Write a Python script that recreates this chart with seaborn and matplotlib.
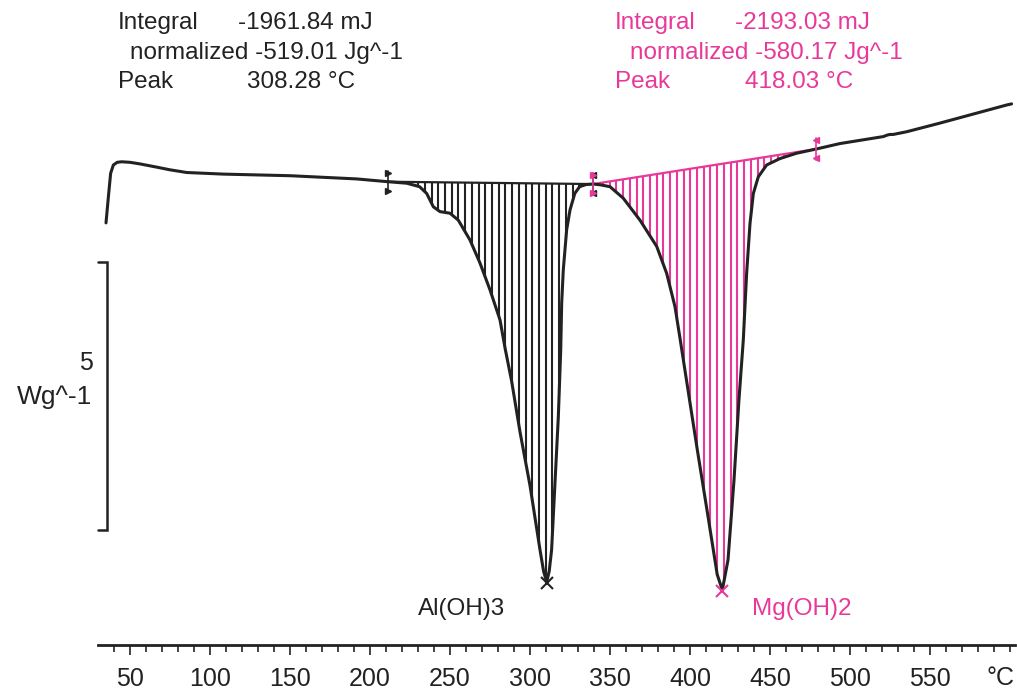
import numpy as np
import pandas as pd
import matplotlib
matplotlib.use("Agg")
import matplotlib.pyplot as plt
import seaborn as sns

# ---------------- data ----------------
temperature = [35.0, 36.5, 37.9, 39.6, 42.0, 44.8, 50.0, 56.25, 66.7, 75.0, 85.4,
               108.3, 150.0, 191.7, 210.4, 218.75, 223.0, 231.0, 235.4, 239.6,
               243.75, 250.0, 255.2, 262.5, 268.75, 275.0, 281.25, 284.5, 288.5,
               293.75, 300.0, 306.25, 308.5, 310.4, 312.0, 313.5, 315.6, 317.7,
               319.2, 319.8, 320.8, 322.9, 325.0, 328.0, 331.0, 335.0, 339.6,
               344.0, 350.0, 358.3, 368.75, 379.2, 385.4, 390.6, 394.0, 399.7,
               404.6, 411.6, 417.0, 420.2, 423.75, 427.5, 430.6, 433.3, 435.4,
               437.5, 439.6, 442.7, 447.9, 456.25, 466.7, 479.2, 493.75, 520.8,
               523.5, 525.0, 527.0, 535.4, 556.0, 577.0, 598.0, 601.0]
heat_flow = [-0.80, -0.31, 0.125, 0.28, 0.33, 0.34, 0.33, 0.30, 0.24, 0.19, 0.14,
             0.11, 0.08, 0.02, -0.03, -0.05, -0.06, -0.125, -0.25, -0.50,
             -0.59, -0.62, -0.75, -1.12, -1.55, -2.05, -2.61, -3.15, -3.75,
             -4.70, -5.70, -6.90, -7.30, -7.50, -7.30, -6.90, -5.66, -4.42,
             -3.17, -2.30, -1.68, -0.93, -0.56, -0.25, -0.125, -0.085, -0.075,
             -0.09, -0.125, -0.34, -0.75, -1.24, -1.74, -2.36, -3.00, -4.10,
             -5.04, -6.34, -7.36, -7.65, -7.09, -5.60, -4.10, -2.99, -1.74,
             -0.81, -0.25, 0.06, 0.28, 0.40, 0.50, 0.58, 0.68, 0.81,
             0.84, 0.85, 0.85, 0.90, 1.06, 1.23, 1.40, 1.42]

peak_names = ["Al(OH)3", "Mg(OH)2"]
integration_limits = [(211.25, 339.4), (339.4, 478.75)]
integral_mJ = ["-1961.84", "-2193.03"]
normalized_Jg = ["-519.01", "-580.17"]
peak_temp_label = ["308.28", "418.03"]

major_ticks = [50, 100, 150, 200, 250, 300, 350, 400, 450, 500, 550]
minor_ticks = list(range(40, 601, 10))
scale_bar_value = 5  # W/g

BLACK = "#222222"
PINK = "#e8399a"
colors = [BLACK, PINK]

# ---------------- figure ----------------
sns.set_style("white")
plt.rcParams["font.family"] = ["Liberation Sans", "DejaVu Sans"]

W, H = 1017, 691
fig = plt.figure(figsize=(W / 100, H / 100), dpi=100)
ax = fig.add_axes([0, 0, 1, 1])
ax.set_facecolor("white")

# pixel <-> data mapping: x_px = 130 + (T-50)*1.6 ; y_px = 180 - v*53.6
ax.set_xlim(50 - 130 / 1.6, 50 + (W - 130) / 1.6)
ax.set_ylim((180 - H) / 53.6, 180 / 53.6)

df = pd.DataFrame({"T": temperature, "v": heat_flow})
T = np.asarray(temperature)
V = np.asarray(heat_flow)

# hatched integration areas
for (t1, t2), col in zip(integration_limits, colors):
    v1, v2 = np.interp([t1, t2], T, V)
    xs = np.arange(t1 + 2.0, t2 - 0.5, 4.2)
    cv = np.interp(xs, T, V)
    bv = v1 + (v2 - v1) * (xs - t1) / (t2 - t1)
    m = cv < bv
    ax.vlines(xs[m], cv[m], bv[m], color=col, lw=1.5, zorder=2)
    ax.plot([t1, t2], [v1, v2], color=col, lw=1.6, zorder=2)

# main curve
sns.lineplot(data=df, x="T", y="v", color=BLACK, lw=2.2, ax=ax, zorder=4,
             sort=False, estimator=None, solid_joinstyle="round")

# integration limit markers
for (t1, t2), col in zip(integration_limits, colors):
    for t, mk in ((t1, ">"), (t2, "<")):
        vv = np.interp(t, T, V)
        ax.plot([t, t], [vv - 0.2, vv + 0.2], color=col, lw=1.2, zorder=5)
        ax.plot([t, t], [vv - 0.17, vv + 0.17], ls="none", marker=mk,
                ms=4.5, color=col, zorder=5)

# peak markers and labels
label_pos = [(418, 609), (752, 609)]
for (t1, t2), col, name, (lx, ly) in zip(integration_limits, colors, peak_names, label_pos):
    sel = (T >= t1) & (T <= t2)
    i = np.argmin(np.where(sel, V, np.inf))
    ax.plot(T[i], V[i] - 0.02, marker="x", ms=8, mew=1.5, color=col, zorder=6)
    fig.text(lx / W, 1 - ly / H, name, color=col, fontsize=17.5, va="center", ha="left")

# x axis
ax.spines[["left", "right", "top"]].set_visible(False)
ax.spines["bottom"].set_position(("data", (180 - 645) / 53.6))
ax.spines["bottom"].set_bounds(30, 603)
ax.spines["bottom"].set_linewidth(2.0)
ax.spines["bottom"].set_color(BLACK)
ax.set_xticks(major_ticks)
ax.set_xticklabels([str(t) for t in major_ticks], fontsize=18, color=BLACK)
ax.set_xticks(minor_ticks, minor=True)
ax.tick_params(axis="x", which="major", direction="out", length=7.5, width=1.2,
               color=BLACK, pad=8, bottom=True)
ax.tick_params(axis="x", which="minor", direction="out", length=5, width=1.2,
               color=BLACK, bottom=True)
ax.set_yticks([])
ax.set_xlabel("")
ax.set_ylabel("")
fig.text(1000 / W, 1 - 678 / H, "°C", fontsize=18, color=BLACK, ha="center", va="center")

# scale bar
xb = 50 + (107 - 130) / 1.6
yb_top = (180 - 262) / 53.6
yb_bot = yb_top - scale_bar_value
ax.plot([xb - 5.6, xb, xb, xb - 5.6], [yb_top, yb_top, yb_bot, yb_bot],
        color=BLACK, lw=1.8, solid_joinstyle="miter")
fig.text(93 / W, 1 - 363 / H, str(scale_bar_value), fontsize=18, color=BLACK,
         ha="right", va="center")
fig.text(92 / W, 1 - 397 / H, "Wg^-1", fontsize=19, color=BLACK,
         ha="right", va="center")

# result annotation blocks
FS = 17.5
blocks = [(118, 238, 130, 247), (615, 735, 630, 745)]
for (xa, xv, xn, xp), col, integ, norm, pk in zip(blocks, colors, integral_mJ,
                                                    normalized_Jg, peak_temp_label):
    fig.text(xa / W, 1 - 29 / H, "Integral", color=col, fontsize=FS, va="baseline")
    fig.text(xv / W, 1 - 29 / H, f"{integ} mJ", color=col, fontsize=FS, va="baseline")
    fig.text(xn / W, 1 - 59 / H, f"normalized {norm} Jg^-1", color=col, fontsize=FS,
             va="baseline")
    fig.text(xa / W, 1 - 88 / H, "Peak", color=col, fontsize=FS, va="baseline")
    fig.text(xp / W, 1 - 88 / H, f"{pk} °C", color=col, fontsize=FS, va="baseline")

fig.savefig("out.png", dpi=100)
